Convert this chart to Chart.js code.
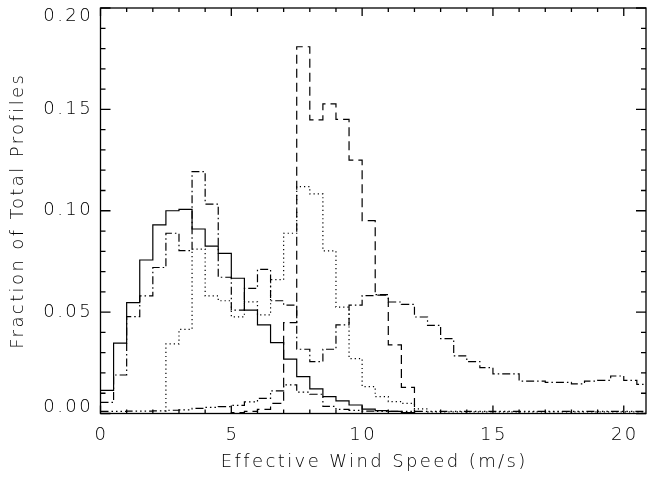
<!DOCTYPE html>
<html>
<head>
<meta charset="utf-8">
<script src="https://cdn.jsdelivr.net/npm/chart.js@4.4.0/dist/chart.umd.min.js"></script>
<style>
html, body { margin: 0; padding: 0; background: #fff; }
#caixa { width: 647px; height: 483px; }
</style>
</head>
<body>
<div id="caixa"><canvas id="grafico"></canvas></div>
<script>
// histogram bins, 0.5 m/s wide, starting at 0
const BIN = 0.5

const solidSeries = [0.0114, 0.0347, 0.0547, 0.0757, 0.0930, 0.1000, 0.1007, 0.0910, 0.0826, 0.0790,
    0.0667, 0.0510, 0.0437, 0.0350, 0.0268, 0.0182, 0.0121, 0.0083, 0.0062, 0.0042,
    0.0022, 0.0014, 0.0010, 0.0005, 0, 0, 0, 0, 0, 0,
    0, 0, 0, 0, 0, 0, 0, 0, 0, 0,
    0, 0]

const dashDotSeries = [0.0055, 0.0190, 0.0478, 0.0580, 0.0720, 0.0889, 0.0803, 0.1193, 0.1033, 0.0672,
    0.0510, 0.0617, 0.0711, 0.0556, 0.0535, 0.0317, 0.0256, 0.0317, 0.0437, 0.0535,
    0.0581, 0.0586, 0.0550, 0.0538, 0.0476, 0.0435, 0.0369, 0.0284, 0.0256, 0.0226,
    0.0195, 0.0195, 0.0160, 0.0160, 0.0154, 0.0154, 0.0146, 0.0160, 0.0163, 0.0185,
    0.0163, 0.0144]

const dottedSeries = [0, 0, 0, 0, 0, 0.0343, 0.0415, 0.0811, 0.0580, 0.0556,
    0.0477, 0.0551, 0.0486, 0.0660, 0.0889, 0.1119, 0.1083, 0.0802, 0.0525, 0.0271,
    0.0133, 0.0083, 0.0059, 0.0050, 0.0023, 0.0008, 0.0008, 0.0008, 0.0008, 0.0008,
    0.0008, 0.0008, 0.0008, 0.0008, 0.0008, 0.0008, 0.0008, 0.0008, 0.0008, 0.0008,
    0.0008, 0.0008]

const dashedSeries = [0, 0, 0, 0, 0, 0, 0, 0, 0, 0,
    0.0005, 0.0010, 0.0020, 0.0050, 0.0448, 0.1809, 0.1448, 0.1527, 0.1451, 0.1250,
    0.0951, 0.0584, 0.0338, 0.0129, 0, 0, 0, 0, 0, 0,
    0, 0, 0, 0, 0, 0, 0, 0, 0, 0,
    0, 0]

const dashDotDotSeries = [0.0010, 0.0010, 0.0012, 0.0012, 0.0013, 0.0016, 0.0018, 0.0025, 0.0030, 0.0034,
    0.0040, 0.0057, 0.0075, 0.0112, 0.0141, 0.0105, 0.0095, 0.0035, 0.0020, 0.0015,
    0.0012, 0.0010, 0.0010, 0.0010, 0.0010, 0.0010, 0.0010, 0.0010, 0.0010, 0.0010,
    0.0010, 0.0010, 0.0010, 0.0010, 0.0010, 0.0010, 0.0010, 0.0010, 0.0010, 0.0010,
    0.0010, 0.0010]

const xMajorTicks = [0, 5, 10, 15, 20]
const xTickLabels = ['0', '5', '10', '15', '20']
const yMajorTicks = [0, 0.05, 0.10, 0.15, 0.20]
const yTickLabels = ['0.00', '0.05', '0.10', '0.15', '0.20']
const xTitle = 'Effective Wind Speed (m/s)'
const yTitle = 'Fraction of Total Profiles'

const FONTE = 'normal 200 18px "DejaVu Sans"'
const COR_TEXTO = '#000'

// turn bin values into step points (left edge of each bin + closing edge)
function passos(valores) {
    var pts = []
    for (let i = 0; i < valores.length; i++) {
        pts.push({ x: i * BIN, y: valores[i] })
    }
    pts.push({ x: valores.length * BIN, y: valores[valores.length - 1] })
    return pts
}

function serie(valores, traco) {
    return {
        data: passos(valores),
        borderColor: '#000',
        borderWidth: 1.2,
        borderDash: traco,
        stepped: 'before',
        pointRadius: 0,
        fill: false
    }
}

// box with inward ticks, labels and titles in the IDL look
const eixos = {
    id: 'eixos',
    afterDraw(chart) {
        const ctx = chart.ctx
        const a = chart.chartArea
        const sx = chart.scales.x
        const sy = chart.scales.y
        ctx.save()
        ctx.strokeStyle = '#000'
        ctx.lineWidth = 1.3
        ctx.strokeRect(a.left, a.top, a.right - a.left, a.bottom - a.top)

        ctx.beginPath()
        for (let v = 0; v <= 20; v++) {
            const px = sx.getPixelForValue(v)
            const len = xMajorTicks.includes(v) ? 8 : 4
            ctx.moveTo(px, a.bottom); ctx.lineTo(px, a.bottom - len)
            ctx.moveTo(px, a.top); ctx.lineTo(px, a.top + len)
        }
        for (let i = 0; i <= 20; i++) {
            const py = sy.getPixelForValue(i / 100)
            const len = i % 5 === 0 ? 10 : 5
            ctx.moveTo(a.left, py); ctx.lineTo(a.left + len, py)
            ctx.moveTo(a.right, py); ctx.lineTo(a.right - len, py)
        }
        ctx.stroke()

        ctx.fillStyle = COR_TEXTO
        ctx.font = FONTE
        ctx.letterSpacing = '2.4px'
        ctx.textBaseline = 'middle'

        ctx.textAlign = 'center'
        xMajorTicks.forEach(function (v, i) {
            ctx.fillText(xTickLabels[i], sx.getPixelForValue(v) + 1, 435)
        })
        ctx.fillText(xTitle, (a.left + a.right) / 2 + 1, 462)

        ctx.textAlign = 'right'
        yMajorTicks.forEach(function (v, i) {
            let py = sy.getPixelForValue(v)
            py = Math.min(Math.max(py, a.top + 8.5), a.bottom - 6)
            ctx.fillText(yTickLabels[i], 93, py)
        })

        ctx.translate(18, (a.top + a.bottom) / 2)
        ctx.rotate(-Math.PI / 2)
        ctx.textAlign = 'center'
        ctx.fillText(yTitle, 0, 0)
        ctx.restore()
    }
}

const ctx = document.getElementById('grafico')

var grafico = new Chart(ctx, {
    type: 'line',
    data: {
        datasets: [
            serie(solidSeries, []),
            serie(dashDotSeries, [8, 3, 1.5, 3]),
            serie(dottedSeries, [1.2, 3]),
            serie(dashedSeries, [9, 5]),
            serie(dashDotDotSeries, [8, 3, 1.5, 3, 1.5, 3, 1.5, 3])
        ]
    },
    options: {
        responsive: true,
        maintainAspectRatio: false,
        animation: false,
        layout: {
            padding: { left: 100.5, right: 1, top: 8, bottom: 69.5 }
        },
        scales: {
            x: { type: 'linear', min: 0, max: 20.85, display: false },
            y: { min: 0, max: 0.2, display: false }
        },
        plugins: {
            legend: { display: false },
            tooltip: { enabled: false }
        }
    },
    plugins: [eixos]
});
</script>
</body>
</html>
